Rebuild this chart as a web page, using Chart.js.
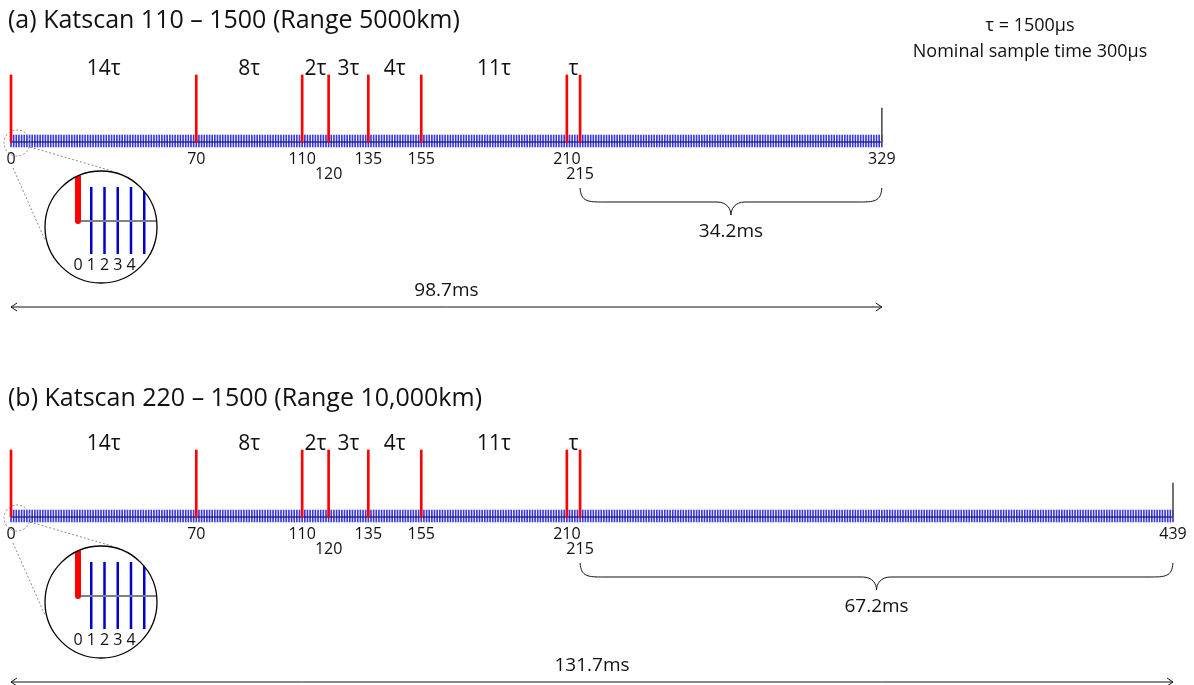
<!DOCTYPE html>
<html>
<head>
<meta charset="utf-8">
<script src="https://cdn.jsdelivr.net/npm/chart.js@4.4.0/dist/chart.umd.min.js"></script>
<style>
  html, body { margin: 0; padding: 0; background: #fff; }
  canvas { display: block; }
</style>
</head>
<body>
<canvas id="timing" width="1194" height="685"></canvas>
<script>
// ---- DATA ----
const pulseSamples = [0, 70, 110, 120, 135, 155, 210, 215];
const gapLabels = ['14τ', '8τ', '2τ', '3τ', '4τ', '11τ', 'τ'];
const lowRowSamples = [120, 215];          // numbers printed on the second row
const lastSamples = [329, 439];
const panelTitles = ['(a) Katscan 110 – 1500 (Range 5000km)', '(b) Katscan 220 – 1500 (Range 10,000km)'];
const tailLabels = ['34.2ms', '67.2ms'];
const totalLabels = ['98.7ms', '131.7ms'];
const insetTicks = [1, 2, 3, 4, 5];
const insetLabels = [0, 1, 2, 3, 4];
const noteLines = ['τ = 1500µs', 'Nominal sample time 300µs'];

// ---- LAYOUT ----
const W = 1194, H = 685;
const X0_PX = 11, PX_PER_SAMPLE = 1162 / 439;
const panelY = [142, 517];     // baseline of each panel, y scale runs in px down the page
const titleY = [21, 399];
const FONT = '"Open Sans", "DejaVu Sans", sans-serif';

// ---- DATASETS ----
const datasets = [];
lastSamples.forEach((last, p) => {
  const base = panelY[p];
  const ticks = [];
  for (let i = 0; i <= last; i++) ticks.push({ x: i, y: [base - 7, base + 5] });
  datasets.push({
    data: ticks, backgroundColor: 'rgba(25,25,215,0.85)', barThickness: 1, order: 3,
  });
  datasets.push({
    type: 'line', data: [{ x: 0, y: base }, { x: last, y: base }],
    borderColor: '#00004a', borderWidth: 1, pointRadius: 0, order: 2,
  });
  datasets.push({
    data: [{ x: last, y: [base - 34, base] }], backgroundColor: '#555', barThickness: 1, order: 1,
  });
  datasets.push({
    data: pulseSamples.map(s => ({ x: s, y: [base - 67, base] })),
    backgroundColor: '#ff0000', barThickness: 2, order: 0,
  });
});

// ---- DRAW HELPERS ----
function brace(ctx, x1, x2, top) {
  const xm = (x1 + x2) / 2, mid = top + 14, tip = top + 27;
  ctx.beginPath();
  ctx.moveTo(x1, top);
  ctx.bezierCurveTo(x1 + 1, mid, x1 + 8, mid, x1 + 24, mid);
  ctx.lineTo(xm - 14, mid);
  ctx.bezierCurveTo(xm - 4, mid, xm, tip - 6, xm, tip);
  ctx.bezierCurveTo(xm, tip - 6, xm + 4, mid, xm + 14, mid);
  ctx.lineTo(x2 - 24, mid);
  ctx.bezierCurveTo(x2 - 8, mid, x2 - 1, mid, x2, top);
  ctx.stroke();
}

function dblArrow(ctx, x1, x2, yy) {
  ctx.beginPath();
  ctx.moveTo(x1, yy); ctx.lineTo(x2, yy);
  ctx.moveTo(x1 + 6, yy - 4); ctx.lineTo(x1, yy); ctx.lineTo(x1 + 6, yy + 4);
  ctx.moveTo(x2 - 6, yy - 4); ctx.lineTo(x2, yy); ctx.lineTo(x2 - 6, yy + 4);
  ctx.stroke();
}

function inset(ctx, px0, base) {
  ctx.save();
  ctx.strokeStyle = '#8a8a8a';
  ctx.lineWidth = 1;
  ctx.setLineDash([2, 2]);
  ctx.beginPath();
  ctx.arc(px0 + 6, base + 1, 13, 0, Math.PI * 2);
  ctx.stroke();
  ctx.beginPath();
  ctx.moveTo(px0 + 19, base + 5); ctx.lineTo(px0 + 101, base + 29);
  ctx.moveTo(px0 + 2, base + 26); ctx.lineTo(px0 + 34, base + 98);
  ctx.stroke();
  ctx.restore();

  const cx = px0 + 90, cy = base + 85, R = 56;
  const step = 13.25, ox = px0 + 67;
  ctx.save();
  ctx.beginPath();
  ctx.arc(cx, cy, R, 0, Math.PI * 2);
  ctx.fillStyle = '#fff';
  ctx.fill();
  ctx.clip();
  ctx.strokeStyle = '#0000cc';
  ctx.lineWidth = 2.5;
  insetTicks.forEach(t => {
    ctx.beginPath();
    ctx.moveTo(ox + t * step, base + 45);
    ctx.lineTo(ox + t * step, base + 112);
    ctx.stroke();
  });
  ctx.strokeStyle = '#808080';
  ctx.lineWidth = 2;
  ctx.beginPath();
  ctx.moveTo(ox, base + 79); ctx.lineTo(cx + R, base + 79);
  ctx.stroke();
  ctx.strokeStyle = '#ff0000';
  ctx.lineWidth = 6;
  ctx.lineCap = 'round';
  ctx.beginPath();
  ctx.moveTo(ox, base + 35); ctx.lineTo(ox, base + 79);
  ctx.stroke();
  ctx.fillStyle = '#111';
  ctx.font = '16px ' + FONT;
  ctx.textAlign = 'center';
  ctx.textBaseline = 'middle';
  insetLabels.forEach(l => ctx.fillText(String(l), ox + l * step, base + 123));
  ctx.restore();

  ctx.save();
  ctx.strokeStyle = '#000';
  ctx.lineWidth = 1.3;
  ctx.beginPath();
  ctx.arc(cx, cy, R, 0, Math.PI * 2);
  ctx.stroke();
  ctx.restore();
}

// ---- ANNOTATIONS ----
const annotate = {
  id: 'annotate',
  afterDatasetsDraw(chart) {
    const { ctx, scales: { x } } = chart;
    ctx.save();
    ctx.fillStyle = '#111';
    ctx.strokeStyle = '#111';
    ctx.textBaseline = 'middle';

    lastSamples.forEach((last, p) => {
      const base = panelY[p];
      const x0 = x.getPixelForValue(0), xl = x.getPixelForValue(last);

      ctx.textAlign = 'left';
      ctx.font = '25px ' + FONT;
      ctx.fillText(panelTitles[p], 8, titleY[p]);

      ctx.textAlign = 'center';
      ctx.font = '21px ' + FONT;
      gapLabels.forEach((g, i) => {
        const mid = (pulseSamples[i] + pulseSamples[i + 1]) / 2;
        ctx.fillText(g, x.getPixelForValue(mid), base - 73);
      });

      ctx.font = '16px ' + FONT;
      pulseSamples.concat([last]).forEach(s => {
        const low = lowRowSamples.includes(s);
        ctx.fillText(String(s), x.getPixelForValue(s), base + (low ? 32 : 17));
      });

      ctx.lineWidth = 1;
      const xb = x.getPixelForValue(pulseSamples[pulseSamples.length - 1]);
      brace(ctx, xb, xl, base + 46);
      ctx.font = '19px ' + FONT;
      ctx.fillText(tailLabels[p], (xb + xl) / 2, base + 90);

      dblArrow(ctx, x0, xl, base + 165);
      ctx.fillText(totalLabels[p], (x0 + xl) / 2, base + 149);

      inset(ctx, x0, base);
    });

    ctx.textAlign = 'center';
    ctx.font = '18px ' + FONT;
    ctx.fillStyle = '#111';
    ctx.fillText(noteLines[0], 1030, 26);
    ctx.fillText(noteLines[1], 1030, 52);
    ctx.restore();
  }
};

new Chart(document.getElementById('timing'), {
  type: 'bar',
  data: { datasets },
  options: {
    responsive: false,
    animation: false,
    layout: { padding: 0 },
    datasets: { bar: { grouped: false, borderWidth: 0 } },
    plugins: { legend: { display: false }, tooltip: { enabled: false } },
    scales: {
      x: { type: 'linear', min: -X0_PX / PX_PER_SAMPLE, max: (W - X0_PX) / PX_PER_SAMPLE, offset: false, display: false },
      y: { type: 'linear', min: 0, max: H, reverse: true, display: false }
    }
  },
  plugins: [annotate]
});
</script>
</body>
</html>
